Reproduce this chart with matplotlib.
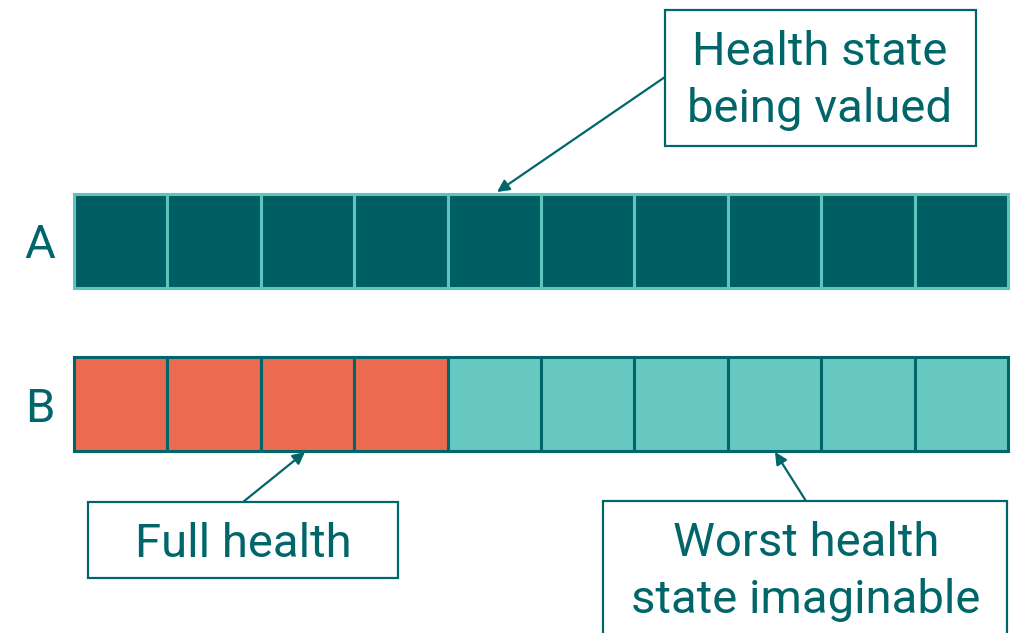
import matplotlib.pyplot as plt
from matplotlib.patches import Rectangle

plt.rcParams['font.family'] = ['Roboto', 'DejaVu Sans']

# Данные: две строки по 10 клеток
row_labels = ["A", "B"]
n_cells = 10
full_health_cells = [0, 4]   # сколько клеток "полного здоровья" в каждой строке
row_fill = ["#005F62", "#66C8C0"]
row_edge = ["#5EC4BD", "#00666A"]
full_color = "#EC6A50"
dark = "#00666A"

fig = plt.figure(figsize=(10.12, 6.33), dpi=100)
ax = fig.add_axes([0, 0, 1, 1])
ax.set_xlim(0, 1012)
ax.set_ylim(633, 0)
ax.axis("off")

# геометрия в пикселях
x0, cell_w, cell_h = 74, 93.4, 94
row_y = [194, 357]
label_base = [258, 422]

for r, lab in enumerate(row_labels):
    for i in range(n_cells):
        fc = full_color if i < full_health_cells[r] else row_fill[r]
        ax.add_patch(Rectangle((x0 + i * cell_w, row_y[r]), cell_w, cell_h,
                               facecolor=fc, edgecolor=row_edge[r], lw=2.2))
    ax.text(40, label_base[r], lab, fontsize=34, color=dark,
            ha="center", va="baseline")

# подписи в рамках
def box(x, y, w, h, lines, baselines, cx):
    ax.add_patch(Rectangle((x, y), w, h, facecolor="white", edgecolor=dark, lw=1.6, zorder=3))
    for t, b in zip(lines, baselines):
        ax.text(cx, b, t, fontsize=34, color=dark, ha="center", va="baseline", zorder=4)

box(665, 10, 311, 136, ["Health state", "being valued"], [65, 122], 820)
box(88, 502, 310, 76, ["Full health"], [557], 243)
box(603, 501, 404, 150, ["Worst health", "state imaginable"], [556, 613], 806)

arrow = dict(arrowstyle="-|>", color=dark, lw=1.6, mutation_scale=18, shrinkA=0, shrinkB=0)
ax.annotate("", xy=(497, 192), xytext=(665, 77), arrowprops=arrow, zorder=2)
ax.annotate("", xy=(305, 452), xytext=(243, 502), arrowprops=arrow, zorder=2)
ax.annotate("", xy=(775, 452), xytext=(806, 501), arrowprops=arrow, zorder=2)

fig.savefig("out.png", dpi=100)
